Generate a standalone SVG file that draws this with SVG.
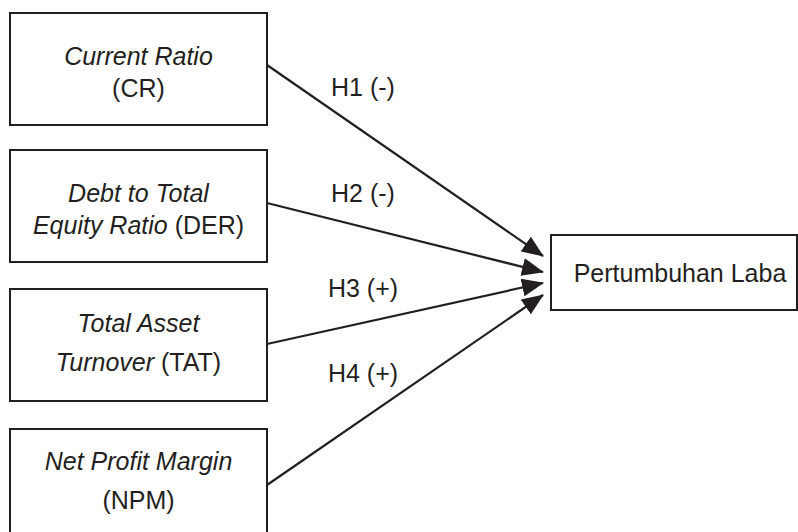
<svg xmlns="http://www.w3.org/2000/svg" width="798" height="532" viewBox="0 0 798 532">
<style>
.box{fill:#fff;stroke:#231f20;stroke-width:2}
.t{font-family:"Liberation Sans",Arial,sans-serif;font-size:25px;fill:#231f20;text-anchor:middle}
.i{font-style:italic}
.edge{stroke:#231f20;stroke-width:2.2;fill:none;marker-end:url(#ah)}
</style>
<defs>
<marker id="ah" markerUnits="userSpaceOnUse" markerWidth="22" markerHeight="18" viewBox="0 0 22 18" refX="21" refY="9" orient="auto">
<path d="M0,0 L22,9 L0,18 Z" fill="#231f20"/>
</marker>
</defs>
<g id="connectors">
<line class="edge" x1="267" y1="65" x2="543" y2="256"/>
<line class="edge" x1="267" y1="203" x2="543" y2="272"/>
<line class="edge" x1="267" y1="344" x2="543" y2="283"/>
<line class="edge" x1="267" y1="485" x2="543" y2="295"/>
<text class="t" x="363" y="96">H1 (-)</text>
<text class="t" x="363" y="202">H2 (-)</text>
<text class="t" x="363" y="297">H3 (+)</text>
<text class="t" x="363" y="382">H4 (+)</text>
</g>
<g id="cr">
<rect class="box" x="10" y="13" width="257" height="112"/>
<text class="t i" x="138.5" y="65">Current Ratio</text>
<text class="t" x="138.5" y="97">(CR)</text>
</g>
<g id="der">
<rect class="box" x="10" y="150" width="257" height="112"/>
<text class="t i" x="138.5" y="202">Debt to Total</text>
<text class="t" x="138.5" y="234"><tspan class="i">Equity Ratio</tspan> (DER)</text>
</g>
<g id="tat">
<rect class="box" x="10" y="289" width="257" height="112"/>
<text class="t i" x="138.5" y="332">Total Asset</text>
<text class="t" x="138.5" y="371"><tspan class="i">Turnover</tspan> (TAT)</text>
</g>
<g id="npm">
<rect class="box" x="10" y="429" width="257" height="110"/>
<text class="t i" x="138.5" y="470">Net Profit Margin</text>
<text class="t" x="138.5" y="509">(NPM)</text>
</g>
<g id="laba">
<rect class="box" x="551" y="235" width="246" height="75"/>
<text class="t" x="680" y="282">Pertumbuhan Laba</text>
</g>
</svg>
